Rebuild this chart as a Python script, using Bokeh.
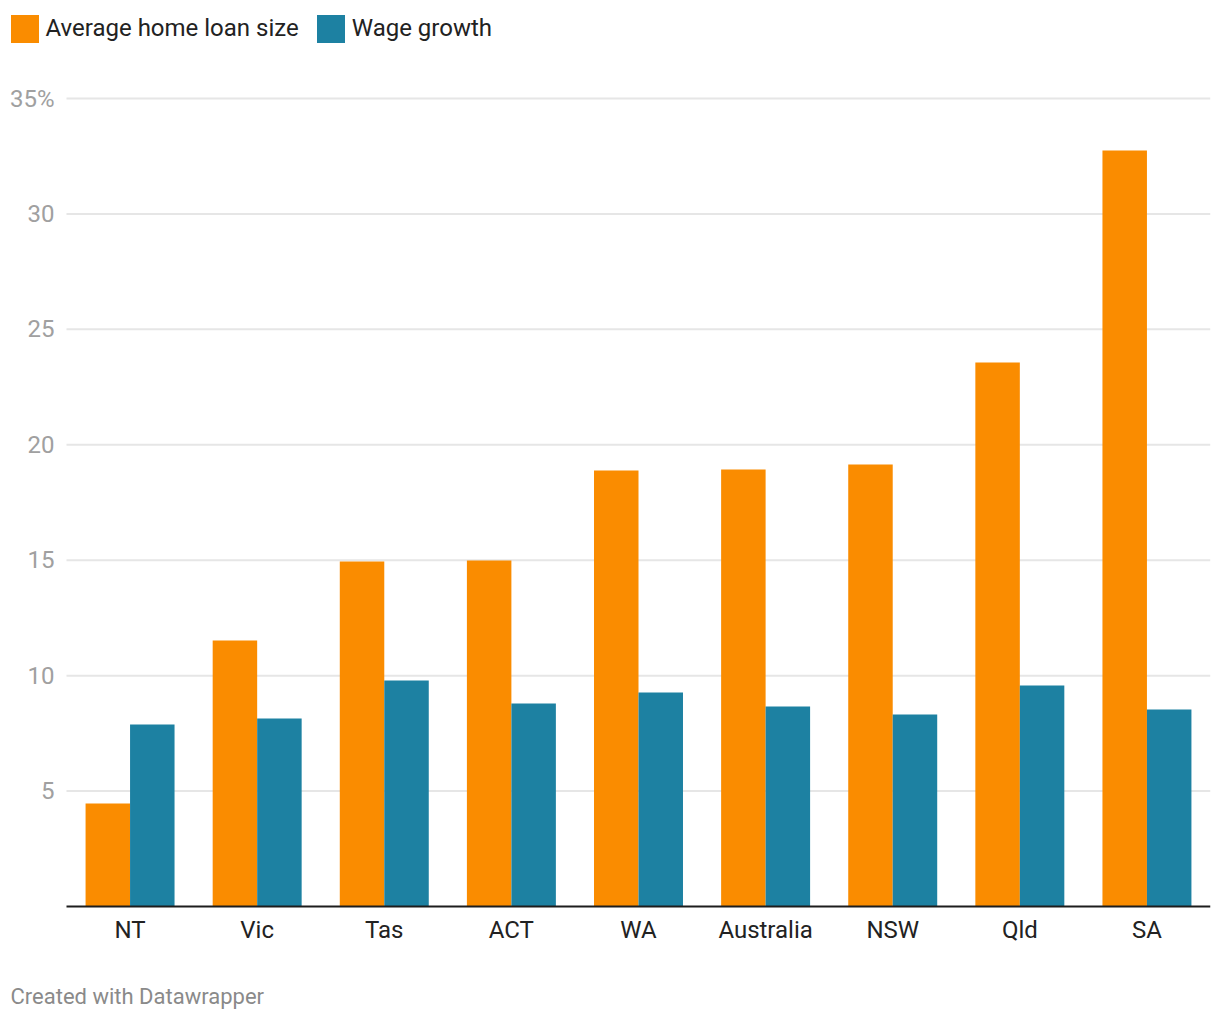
import numpy as np
from bokeh.plotting import figure
from bokeh.models import (ColumnDataSource, Range1d, FixedTicker,
                          Legend, LegendItem, Label)
from bokeh.embed import file_html
from bokeh.resources import INLINE

categories = ["NT", "Vic", "Tas", "ACT", "WA", "Australia", "NSW", "Qld", "SA"]
home_loan = [4.46, 11.52, 14.94, 14.99, 18.89, 18.93, 19.15, 23.56, 32.75]
wage_growth = [7.88, 8.14, 9.79, 8.79, 9.27, 8.66, 8.32, 9.57, 8.53]
series_names = ["Average home loan size", "Wage growth"]
y_ticks = [5, 10, 15, 20, 25, 30, 35]
y_tick_labels = {35: "35%"}

ORANGE = "#fa8c00"
BLUE = "#1d81a2"
GRID = "#e6e6e6"
FONT = "Roboto"

n = len(categories)
centers = np.arange(n) + 0.5
bar_w = 0.35

src = ColumnDataSource(dict(cat=categories, xc=centers,
                            x_loan=centers - bar_w / 2, x_wage=centers + bar_w / 2,
                            loan=home_loan, wage=wage_growth))

W, H = 1220, 1020
# plot frame covers the canvas (except a 10px right margin); scales chosen so
# the category band spans x=66..1210 px and the value axis maps 0..35 to 906..98 px
px_per_cat = (1210 - 66) / n
px_per_unit = (906 - 98) / 35
x_start = -66 / px_per_cat
y_start = -(H - 906) / px_per_unit
y_end = 35 + 98 / px_per_unit

p = figure(width=W, height=H,
           x_range=Range1d(x_start, n), y_range=Range1d(y_start, y_end),
           output_backend="svg", toolbar_location=None,
           min_border_left=0, min_border_right=10,
           min_border_top=0, min_border_bottom=0)
p.outline_line_color = None
p.background_fill_color = "white"
p.border_fill_color = "white"
p.grid.visible = False

# horizontal gridlines across the category band
p.segment(x0=0, x1=n, y0=y_ticks, y1=y_ticks, line_color=GRID, line_width=2)

r1 = p.vbar(x="x_loan", top="loan", width=bar_w, source=src,
            fill_color=ORANGE, line_color=None)
r2 = p.vbar(x="x_wage", top="wage", width=bar_w, source=src,
            fill_color=BLUE, line_color=None)

# y axis placed at the left edge of the category band
p.yaxis.fixed_location = 0
p.yaxis.ticker = FixedTicker(ticks=y_ticks)
p.yaxis.major_label_overrides = y_tick_labels
p.yaxis.axis_line_color = None
p.yaxis.major_tick_line_color = None
p.yaxis.minor_tick_line_color = None
p.yaxis.major_label_standoff = 6
p.yaxis.major_label_text_font = FONT
p.yaxis.major_label_text_font_size = "24px"
p.yaxis.major_label_text_color = "#a0a0a0"

# x axis (baseline) at value 0
p.xaxis.fixed_location = 0
p.xaxis.bounds = (0, n)
p.xaxis.ticker = FixedTicker(ticks=list(centers))
p.xaxis.major_label_overrides = {float(c): cat for c, cat in zip(centers, categories)}
p.xaxis.axis_line_color = "#1d1d1d"
p.xaxis.axis_line_width = 2
p.xaxis.major_tick_line_color = None
p.xaxis.minor_tick_line_color = None
p.xaxis.major_label_standoff = 3
p.xaxis.major_label_text_font = FONT
p.xaxis.major_label_text_font_size = "24px"
p.xaxis.major_label_text_color = "#222222"

legend = Legend(items=[LegendItem(label=series_names[0], renderers=[r1]),
                       LegendItem(label=series_names[1], renderers=[r2])],
                location=(6.5, H - 45.5), orientation="horizontal",
                glyph_width=35, glyph_height=35, label_height=30,
                label_standoff=4, spacing=14, padding=0, margin=0,
                border_line_color=None, background_fill_alpha=0,
                label_text_font=FONT, label_text_font_size="24px",
                label_text_color="#222222")
p.add_layout(legend)

footer = Label(x=10, y=H - 996, x_units="screen", y_units="screen",
               text="Created with Datawrapper", text_font=FONT,
               text_font_size="22px", text_color="#8a8a8a",
               text_baseline="alphabetic")
p.add_layout(footer)

open("out.html", "w").write(file_html(p, INLINE))
